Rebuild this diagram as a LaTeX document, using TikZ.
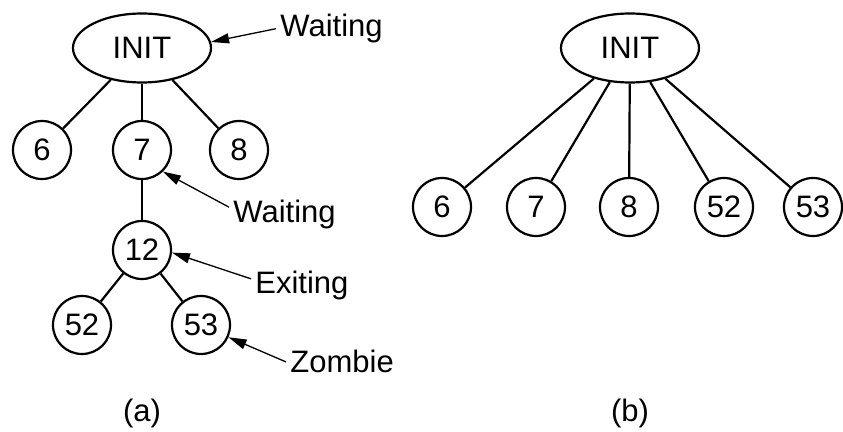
\documentclass[tikz,border=0pt]{standalone}
\usepackage{fontspec}
\setmainfont{Liberation Sans}
\usepackage{tikz}
\usetikzlibrary{shapes.geometric, arrows.meta, positioning}

\begin{document}
\begin{tikzpicture}[
  x=0.5pt, y=-0.5pt,
  %--- shared node styles -----------------------------------------
  proc/.style={
    circle, draw=black, line width=1.1pt,
    minimum size=29pt, inner sep=0pt,
    font=\fontsize{15.5}{18}\selectfont
  },
  initbox/.style={
    ellipse, draw=black, line width=1.1pt,
    minimum width=69pt, minimum height=34.5pt, inner sep=0pt,
    font=\fontsize{15.5}{18}\selectfont
  },
  note/.style={anchor=base west, inner sep=2pt,
    font=\fontsize{15.5}{18}\selectfont},
  caption/.style={anchor=base, inner sep=0pt,
    font=\fontsize{15.5}{18}\selectfont},
  edge/.style={line width=1.1pt},
  arr/.style={-{Triangle[length=9pt,width=5pt]}, line width=0.65pt},
]
\useasboundingbox (0,0) rectangle (843,432);

%% --- (a): process tree before 12 exits ---------------------------
\node[initbox] (initA) at (142,48) {INIT};
\node[proc] (a6)  at (42,150)  {6};
\node[proc] (a7)  at (142,150) {7};
\node[proc] (a8)  at (239,150) {8};
\node[proc] (a12) at (142,250) {12};
\node[proc] (a52) at (82,325)  {52};
\node[proc] (a53) at (201,325) {53};

%% state notes
\node[note] (w1) at (276,36.7) {Waiting};
\node[note] (w2) at (229,223)  {Waiting};
\node[note] (ex) at (251,294)  {Exiting};
\node[note] (zb) at (286,373)  {Zombie};

\node[caption] (capA) at (142,422) {(a)};

%% --- (b): children re-parented to INIT ---------------------------
\node[initbox] (initB) at (630,48) {INIT};
\node[proc] (b6)  at (442,207) {6};
\node[proc] (b7)  at (536,207) {7};
\node[proc] (b8)  at (629,207) {8};
\node[proc] (b52) at (724,207) {52};
\node[proc] (b53) at (813,207) {53};

\node[caption] (capB) at (630,422) {(b)};

%% --- edges -------------------------------------------------------
\draw[edge] (initA) -- (a6);
\draw[edge] (initA) -- (a7);
\draw[edge] (initA) -- (a8);
\draw[edge] (a7) -- (a12);
\draw[edge] (a12) -- (a52);
\draw[edge] (a12) -- (a53);

\draw[edge] (initB) -- (b6);
\draw[edge] (initB) -- (b7);
\draw[edge] (initB) -- (b8);
\draw[edge] (initB) -- (b52);
\draw[edge] (initB) -- (b53);

%% --- arrows from notes -------------------------------------------
\draw[arr] (w1.west) -- (initA.5);
\draw[arr] (w2.172) -- (a7.-46);
\draw[arr] (ex.172) -- (a12.-5);
\draw[arr] (zb.west) -- (a53.-24);

\end{tikzpicture}
\end{document}
